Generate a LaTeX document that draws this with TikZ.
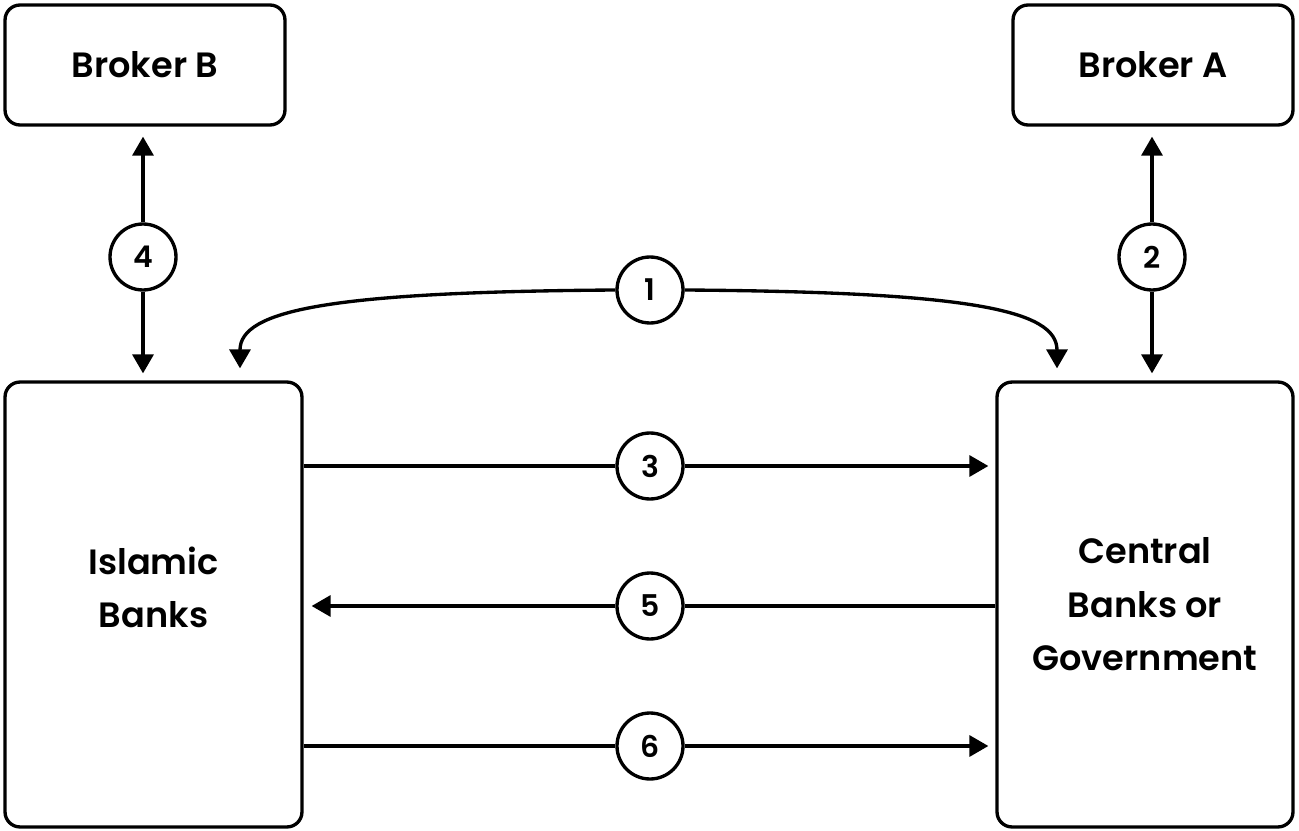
\documentclass[tikz,border=0pt]{standalone}
\usepackage{fontspec}
\setmainfont{Poppins}[BoldFont={Poppins SemiBold}]
\usepackage{tikz}
\usetikzlibrary{arrows.meta,calc}

\tikzset{
  party/.style={draw,line width=1.9pt,rounded corners=0.3cm,align=center,
    font=\fontsize{20}{30.5}\selectfont\bfseries},
  party text/.style={align=center,font=\fontsize{20}{30.5}\selectfont\bfseries},
  step circle/.style={draw,circle,line width=1.9pt,minimum size=1.32cm,inner sep=0pt,
    fill=white,font=\fontsize{17}{20}\selectfont\bfseries},
  flow/.style={line width=1.9pt,-{Triangle[length=0.38cm,width=0.42cm]}},
  link/.style={line width=1.9pt}
}

\begin{document}
\begin{tikzpicture}[x=0.02cm,y=-0.02cm]
\useasboundingbox (0,0) rectangle (1299,831);
% parties
\node[party,minimum width=5.6cm,minimum height=2.4cm] (bb) at (145,65) {Broker B};
\node[party,minimum width=5.6cm,minimum height=2.4cm] (ba) at (1153,65) {Broker A};
\node[party,minimum width=5.94cm,minimum height=8.9cm,
  label={[party text,name=ib text,yshift=0.34cm]center:Islamic\\Banks}] (ib) at (153.5,604.5) {};
\node[party,minimum width=5.92cm,minimum height=8.9cm] (cb) at (1145,604.5) {Central\\Banks or\\Government};
% numbered steps
\foreach \name/\pos/\num in {s1/{(650,290)}/1,s2/{(1152,257)}/2,s3/{(650,466)}/3,
                             s4/{(143,257)}/4,s5/{(650,606)}/5,s6/{(650,746)}/6}
  \node[step circle] (\name) at \pos {\num};
\coordinate (ib in) at ([xshift=1.73cm,yshift=0.24cm]ib.north);
\coordinate (cb in) at ([xshift=-1.76cm,yshift=0.24cm]cb.north);
% brokers
\draw[flow,shorten >=0.2cm] (s4) -- (bb.south -| s4);
\draw[flow,shorten >=0.14cm] (s4) -- (ib.north -| s4);
\draw[flow,shorten >=0.2cm] (s2) -- (ba.south -| s2);
\draw[flow,shorten >=0.14cm] (s2) -- (cb.north -| s2);
% step 1
\draw[flow] (s1.west) .. controls (330,292) and (240,310) .. (ib in);
\draw[flow] (s1.east) .. controls (970,292) and (1057,310) .. (cb in);
% steps 3, 5, 6
\draw[link] (ib.east |- s3) -- (s3);
\draw[flow,shorten >=0.14cm] (s3) -- (cb.west |- s3);
\draw[link] (cb.west |- s5) -- (s5);
\draw[flow,shorten >=0.16cm] (s5) -- (ib.east |- s5);
\draw[link] (ib.east |- s6) -- (s6);
\draw[flow,shorten >=0.14cm] (s6) -- (cb.west |- s6);
\end{tikzpicture}
\end{document}
